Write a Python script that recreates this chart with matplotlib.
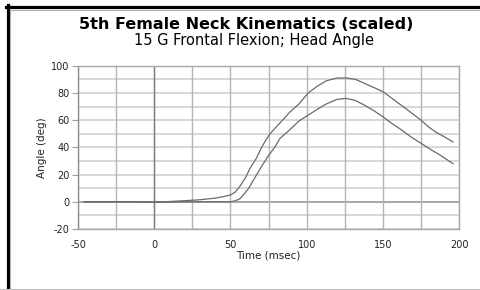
import matplotlib.pyplot as plt
import numpy as np
from matplotlib.lines import Line2D

plt.rcParams['font.family'] = ['DejaVu Sans']
plt.rcParams['axes.unicode_minus'] = False

# upper curve
t_upper = [-46, -30, -15, 0, 10, 20, 30, 40, 45, 50, 53, 56, 60, 63, 67, 70,
           73, 76, 80, 85, 89, 95, 101, 107, 113, 120, 126, 132, 138, 144,
           150, 156, 162, 168, 175, 180, 185, 190, 196]
upper = [0, 0, 0, -0.3, 0.2, 0.8, 1.5, 2.7, 3.7, 5, 7, 11, 18, 25, 32, 39,
         45, 50, 55, 61, 66, 72, 80, 85, 89, 91, 91, 90, 87, 84,
         81, 76, 71, 66, 60, 55, 51, 48, 44]

# lower curve
t_lower = [-46, -30, -15, 0, 20, 40, 50, 53, 56, 58.5, 62, 67, 71, 75, 79,
           82.5, 89, 95, 101, 107, 113, 120, 126, 132, 138, 144, 150, 156,
           162, 168, 175, 182, 188, 196]
lower = [0, 0, 0, -0.3, 0, 0, 0, 0.7, 2, 5, 10, 19.6, 27, 34, 40,
         46.6, 53, 59.5, 63.7, 68, 72, 75.3, 76, 74.5, 71, 67, 62.5, 57.5,
         53, 48, 43, 38, 34, 28]

fig = plt.figure(figsize=(4.8, 2.9), dpi=100)
ax = fig.add_axes([0.1625, 0.2103, 0.794, 0.563])

# grid
for y in np.arange(-20, 101, 10):
    ax.axhline(y, color='#d4d4d4', lw=1.3, zorder=0)
ax.axhline(0, color='#a0a0a0', lw=1.2, zorder=0)
for x in np.arange(-50, 201, 25):
    ax.axvline(x, color='#b4b4b4', lw=1.0, zorder=0)
ax.axvline(0, color='#808080', lw=1.0, zorder=0)

ax.plot(t_upper, upper, color='#6a6a6a', lw=0.9)
ax.plot(t_lower, lower, color='#6a6a6a', lw=0.9)

ax.set_xlim(-50, 200)
ax.set_ylim(-20, 100)
ax.set_xticks(np.arange(-50, 201, 50))
ax.set_yticks(np.arange(-20, 101, 20))
for s in ax.spines.values():
    s.set_color('#a8a8a8')
    s.set_linewidth(1.0)
ax.spines['left'].set_color('#909090')
ax.tick_params(labelsize=7, length=4, color='#a0a0a0', pad=2,
               labelcolor='#222222')
ax.tick_params(axis='x', length=0, pad=8)

ax.set_xlabel('Time (msec)', fontsize=7.5, labelpad=0, color='#222222')
ax.set_ylabel('Angle (deg)', fontsize=7.5, labelpad=3, color='#222222')

fig.text(0.512, 0.915, '5th Female Neck Kinematics (scaled)', ha='center',
         va='center', fontsize=11.5, fontweight='bold')
fig.text(0.529, 0.862, '15 G Frontal Flexion; Head Angle', ha='center',
         va='center', fontsize=10.5)

# outer frame
fig.add_artist(Line2D([0.0125, 1], [1 - 6.5 / 290] * 2, color='black',
                      lw=2.3, transform=fig.transFigure))
fig.add_artist(Line2D([7.5 / 480] * 2, [0, 1 - 5 / 290], color='black',
                      lw=2.3, transform=fig.transFigure))
fig.add_artist(Line2D([9.5 / 480, 1], [1 - 9.5 / 290] * 2, color='#b0b0b0',
                      lw=0.8, transform=fig.transFigure))
fig.add_artist(Line2D([10 / 480] * 2, [0, 1 - 9.5 / 290], color='#b0b0b0',
                      lw=0.8, transform=fig.transFigure))
fig.add_artist(Line2D([0, 1], [1.2 / 290] * 2, color='#c0c0c0',
                      lw=0.8, transform=fig.transFigure))

fig.savefig('out.png', dpi=100)
